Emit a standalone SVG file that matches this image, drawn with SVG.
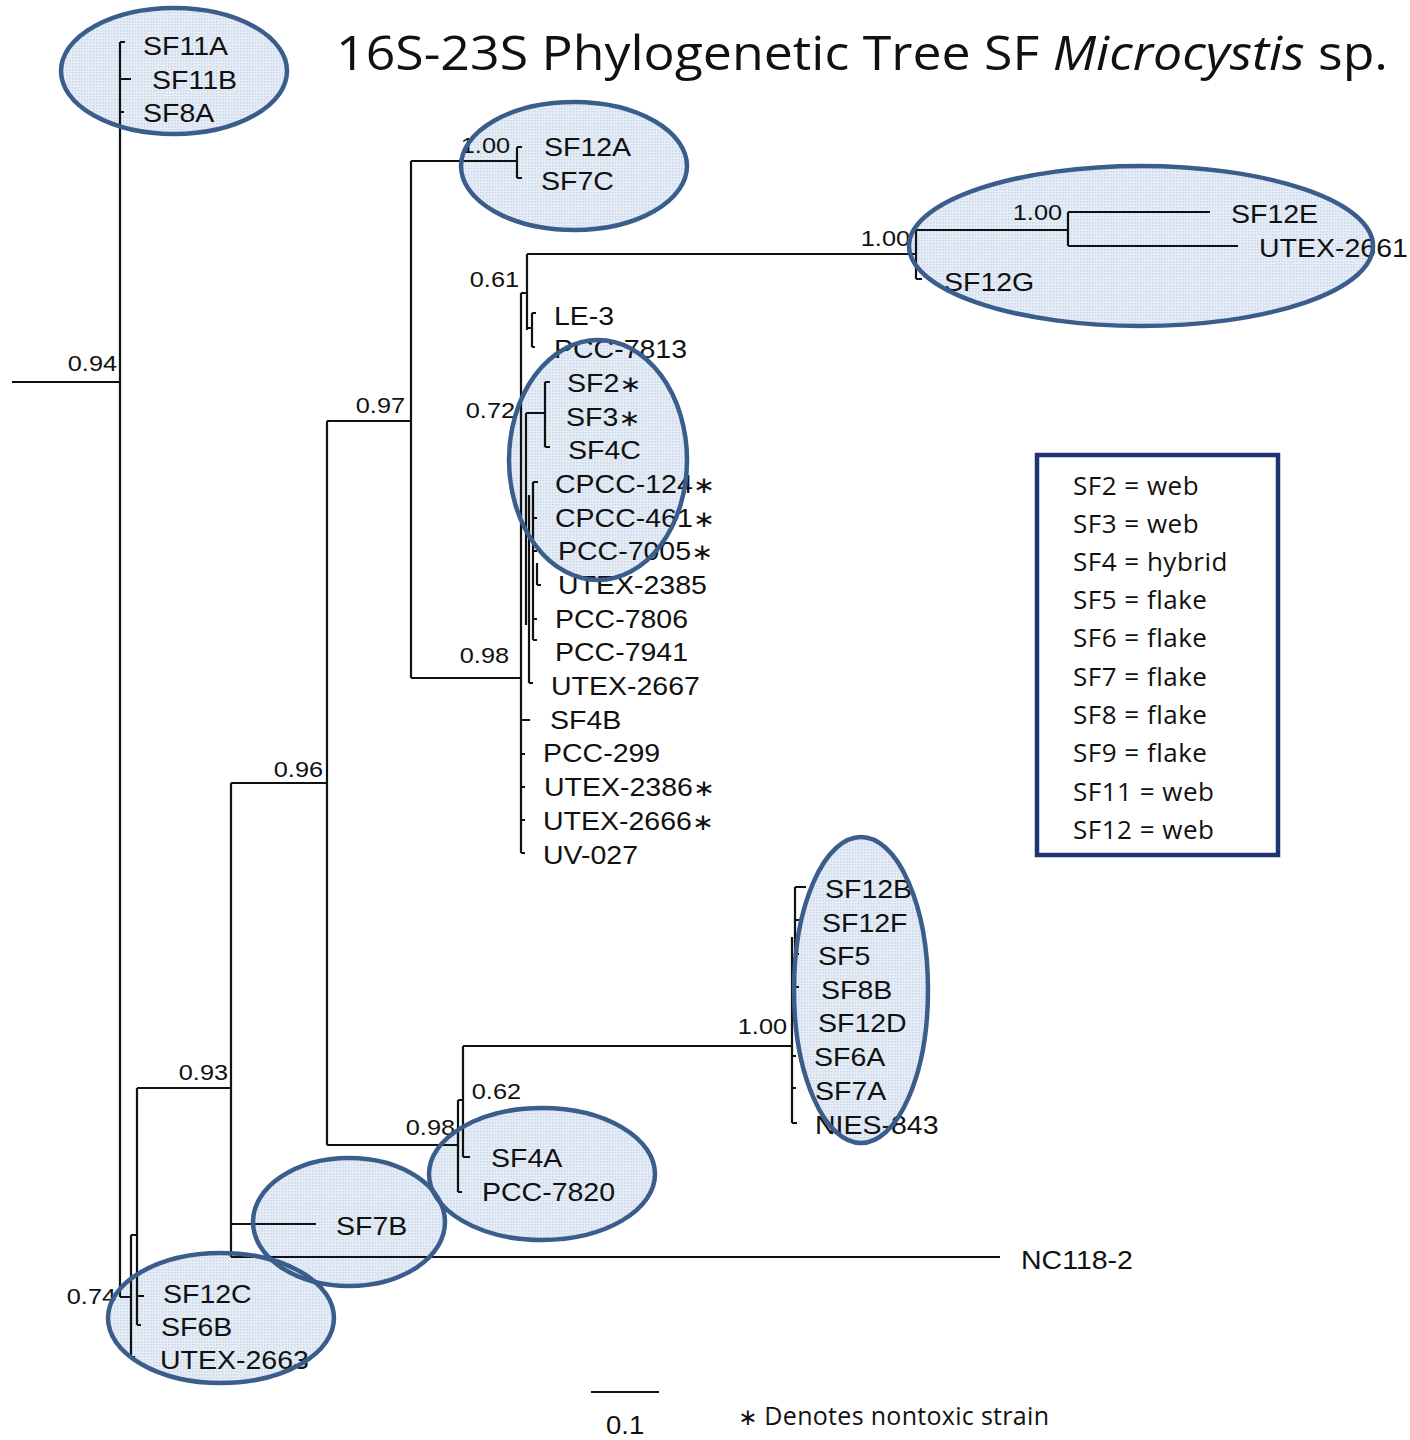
<svg xmlns="http://www.w3.org/2000/svg" width="1410" height="1440" viewBox="0 0 1410 1440">
<defs>
<pattern id="dots" width="3" height="3" patternUnits="userSpaceOnUse">
<rect width="3" height="3" fill="#e6edf6"/>
<rect width="1.5" height="1.5" fill="#c9d7ea"/>
</pattern>
<style>
.bg{fill:url(#dots);stroke:none}
.ring{fill:none;stroke:#3a5d8c;stroke-width:4.5}
.br{fill:none;stroke:#111;stroke-width:2.2}
.tip{font-family:"Liberation Sans",Arial,sans-serif;font-size:25px;fill:#111}
.bs{font-family:"Liberation Sans",Arial,sans-serif;font-size:22px;fill:#111;text-anchor:end}
.ast{font-family:"DejaVu Sans",sans-serif;font-size:23px}
.leg{font-family:"Open Sans","Liberation Sans",sans-serif;font-size:26px;letter-spacing:0.5px;fill:#111}
.note{font-family:"Open Sans","Liberation Sans",sans-serif;font-size:25px;letter-spacing:0.3px;fill:#111}
.title{font-family:"Open Sans","Liberation Sans",sans-serif;font-size:47px;fill:#111}
</style>
</defs>
<rect width="1410" height="1440" fill="#fff"/>

<g id="highlight-fills">
<ellipse class="bg" cx="174" cy="71" rx="113" ry="63"/>
<ellipse class="bg" cx="574" cy="166" rx="113" ry="64"/>
<ellipse class="bg" cx="1141" cy="246" rx="232" ry="80"/>
<ellipse class="bg" cx="598" cy="460" rx="89" ry="120"/>
<ellipse class="bg" cx="861" cy="990" rx="67" ry="153"/>
<ellipse class="bg" cx="542" cy="1174" rx="113" ry="66"/>
<ellipse class="bg" cx="349" cy="1222" rx="96" ry="64"/>
<ellipse class="bg" cx="221" cy="1318" rx="113" ry="65"/>
</g>

<g id="connectors" class="br">
<path d="M12,382 H120 M120,42 V1297 M120,42 H125 M120,79 H131 M120,112 H124"/>
<path d="M120,1297 H131 M131,1235 V1357 M131,1235 H137 M131,1357 H135 M137,1088 V1325 M137,1296 H144 M137,1325 H141 M137,1088 H231"/>
<path d="M231,783 V1257 M231,1224 H316 M231,1257 H1000 M231,783 H327"/>
<path d="M327,421 V1145 M327,421 H411 M327,1145 H458"/>
<path d="M411,161 V678 M411,161 H517 M517,147 V178 M517,147 H522 M517,178 H522 M411,678 H521"/>
<path d="M521,293 V853 M521,293 H527 M527,254 V330 M527,254 H916 M916,230 V279 M916,279 H922 M916,230 H1068 M1068,212 V246 M1068,212 H1210 M1068,246 H1238"/>
<path d="M527,328 H532 M532,313 V347 M532,313 H536 M532,347 H535"/>
<path d="M526,413 V625 M526,413 H545 M545,382 V447 M545,382 H550 M545,447 H550"/>
<path d="M529,495 V683 M529,683 H533 M533,482 V640 M533,482 H538 M533,518 H537 M533,551 H537 M537,563 V585 M537,585 H541 M533,619 H537 M533,640 H537"/>
<path d="M521,720 H530 M521,754 H525 M521,787 H525 M521,820 H525 M521,853 H525"/>
<path d="M458,1100 V1192 M458,1100 H463 M458,1192 H462 M463,1046 V1157 M463,1157 H470 M463,1046 H792"/>
<path d="M792,937 V1123 M795,887 V987 M795,887 H806 M795,920 H803 M795,954 H799 M795,987 H799 M792,1056 H796 M792,1088 H796 M792,1123 H797 M792,960 H795"/>
<path d="M591,1392 H659"/>
</g>

<g id="support-values">
<text class="bs" transform="translate(117,371) scale(1.15,1)">0.94</text>
<text class="bs" transform="translate(510,153) scale(1.15,1)">1.00</text>
<text class="bs" transform="translate(910,246) scale(1.15,1)">1.00</text>
<text class="bs" transform="translate(1062,220) scale(1.15,1)">1.00</text>
<text class="bs" transform="translate(519,287) scale(1.15,1)">0.61</text>
<text class="bs" transform="translate(405,413) scale(1.15,1)">0.97</text>
<text class="bs" transform="translate(515,418) scale(1.15,1)">0.72</text>
<text class="bs" transform="translate(509,663) scale(1.15,1)">0.98</text>
<text class="bs" transform="translate(323,777) scale(1.15,1)">0.96</text>
<text class="bs" transform="translate(787,1034) scale(1.15,1)">1.00</text>
<text class="bs" transform="translate(228,1080) scale(1.15,1)">0.93</text>
<text class="bs" transform="translate(521,1099) scale(1.15,1)">0.62</text>
<text class="bs" transform="translate(455,1135) scale(1.15,1)">0.98</text>
<text class="bs" transform="translate(116,1304) scale(1.15,1)">0.74</text>
</g>

<g id="taxa">
<g id="n-SF11A"><text class="tip" transform="translate(143,55) scale(1.14,1)">SF11A</text></g>
<g id="n-SF11B"><text class="tip" transform="translate(152,89) scale(1.14,1)">SF11B</text></g>
<g id="n-SF8A"><text class="tip" transform="translate(143,122) scale(1.14,1)">SF8A</text></g>
<g id="n-SF12A"><text class="tip" transform="translate(544,156) scale(1.14,1)">SF12A</text></g>
<g id="n-SF7C"><text class="tip" transform="translate(541,190) scale(1.14,1)">SF7C</text></g>
<g id="n-SF12E"><text class="tip" transform="translate(1231,223) scale(1.14,1)">SF12E</text></g>
<g id="n-UTEX-2661"><text class="tip" transform="translate(1259,257) scale(1.14,1)">UTEX-2661</text></g>
<g id="n-SF12G"><text class="tip" transform="translate(944,291) scale(1.14,1)">SF12G</text></g>
<g id="n-LE-3"><text class="tip" transform="translate(554,325) scale(1.14,1)">LE-3</text></g>
<g id="n-PCC-7813"><text class="tip" transform="translate(554,358) scale(1.14,1)">PCC-7813</text></g>
<g id="n-SF2"><text class="tip" transform="translate(567,392) scale(1.14,1)">SF2<tspan class="ast">∗</tspan></text></g>
<g id="n-SF3"><text class="tip" transform="translate(566,426) scale(1.14,1)">SF3<tspan class="ast">∗</tspan></text></g>
<g id="n-SF4C"><text class="tip" transform="translate(568,459) scale(1.14,1)">SF4C</text></g>
<g id="n-CPCC-124"><text class="tip" transform="translate(555,493) scale(1.14,1)">CPCC-124<tspan class="ast">∗</tspan></text></g>
<g id="n-CPCC-461"><text class="tip" transform="translate(555,527) scale(1.14,1)">CPCC-461<tspan class="ast">∗</tspan></text></g>
<g id="n-PCC-7005"><text class="tip" transform="translate(558,560) scale(1.14,1)">PCC-7005<tspan class="ast">∗</tspan></text></g>
<g id="n-UTEX-2385"><text class="tip" transform="translate(558,594) scale(1.14,1)">UTEX-2385</text></g>
<g id="n-PCC-7806"><text class="tip" transform="translate(555,628) scale(1.14,1)">PCC-7806</text></g>
<g id="n-PCC-7941"><text class="tip" transform="translate(555,661) scale(1.14,1)">PCC-7941</text></g>
<g id="n-UTEX-2667"><text class="tip" transform="translate(551,695) scale(1.14,1)">UTEX-2667</text></g>
<g id="n-SF4B"><text class="tip" transform="translate(550,729) scale(1.14,1)">SF4B</text></g>
<g id="n-PCC-299"><text class="tip" transform="translate(543,762) scale(1.14,1)">PCC-299</text></g>
<g id="n-UTEX-2386"><text class="tip" transform="translate(544,796) scale(1.14,1)">UTEX-2386<tspan class="ast">∗</tspan></text></g>
<g id="n-UTEX-2666"><text class="tip" transform="translate(543,830) scale(1.14,1)">UTEX-2666<tspan class="ast">∗</tspan></text></g>
<g id="n-UV-027"><text class="tip" transform="translate(543,864) scale(1.14,1)">UV-027</text></g>
<g id="n-SF12B"><text class="tip" transform="translate(825,898) scale(1.14,1)">SF12B</text></g>
<g id="n-SF12F"><text class="tip" transform="translate(822,932) scale(1.14,1)">SF12F</text></g>
<g id="n-SF5"><text class="tip" transform="translate(818,965) scale(1.14,1)">SF5</text></g>
<g id="n-SF8B"><text class="tip" transform="translate(821,999) scale(1.14,1)">SF8B</text></g>
<g id="n-SF12D"><text class="tip" transform="translate(818,1032) scale(1.14,1)">SF12D</text></g>
<g id="n-SF6A"><text class="tip" transform="translate(814,1066) scale(1.14,1)">SF6A</text></g>
<g id="n-SF7A"><text class="tip" transform="translate(815,1100) scale(1.14,1)">SF7A</text></g>
<g id="n-NIES-843"><text class="tip" transform="translate(815,1134) scale(1.14,1)">NIES-843</text></g>
<g id="n-SF4A"><text class="tip" transform="translate(491,1167) scale(1.14,1)">SF4A</text></g>
<g id="n-PCC-7820"><text class="tip" transform="translate(482,1201) scale(1.14,1)">PCC-7820</text></g>
<g id="n-SF7B"><text class="tip" transform="translate(336,1235) scale(1.14,1)">SF7B</text></g>
<g id="n-NC118-2"><text class="tip" transform="translate(1021,1269) scale(1.14,1)">NC118-2</text></g>
<g id="n-SF12C"><text class="tip" transform="translate(163,1303) scale(1.14,1)">SF12C</text></g>
<g id="n-SF6B"><text class="tip" transform="translate(161,1336) scale(1.14,1)">SF6B</text></g>
<g id="n-UTEX-2663"><text class="tip" transform="translate(160,1369) scale(1.14,1)">UTEX-2663</text></g>
</g>

<g id="highlight-rings">
<ellipse class="ring" cx="174" cy="71" rx="113" ry="63"/>
<ellipse class="ring" cx="574" cy="166" rx="113" ry="64"/>
<ellipse class="ring" cx="1141" cy="246" rx="232" ry="80"/>
<ellipse class="ring" cx="598" cy="460" rx="89" ry="120"/>
<ellipse class="ring" cx="861" cy="990" rx="67" ry="153"/>
<ellipse class="ring" cx="542" cy="1174" rx="113" ry="66"/>
<ellipse class="ring" cx="349" cy="1222" rx="96" ry="64"/>
<ellipse class="ring" cx="221" cy="1318" rx="113" ry="65"/>
</g>

<g id="title">
<text class="title" x="336" y="70" textLength="1052" lengthAdjust="spacingAndGlyphs">16S-23S Phylogenetic Tree SF <tspan font-style="italic">Microcystis</tspan> sp.</text>
</g>

<g id="legend">
<rect x="1037" y="455" width="241" height="400" fill="#fff" stroke="#1f3570" stroke-width="4.5"/>
<text class="leg" x="1073" y="495">SF2 = web</text>
<text class="leg" x="1073" y="533">SF3 = web</text>
<text class="leg" x="1073" y="571">SF4 = hybrid</text>
<text class="leg" x="1073" y="609">SF5 = flake</text>
<text class="leg" x="1073" y="647">SF6 = flake</text>
<text class="leg" x="1073" y="686">SF7 = flake</text>
<text class="leg" x="1073" y="724">SF8 = flake</text>
<text class="leg" x="1073" y="762">SF9 = flake</text>
<text class="leg" x="1073" y="801">SF11 = web</text>
<text class="leg" x="1073" y="839">SF12 = web</text>
</g>

<g id="scale">
<text class="tip" transform="translate(606,1434) scale(1.1,1)">0.1</text>
</g>
<g id="note">
<text class="note" x="738" y="1425"><tspan font-family="DejaVu Sans" font-size="23">∗</tspan> Denotes nontoxic strain</text>
</g>
</svg>
